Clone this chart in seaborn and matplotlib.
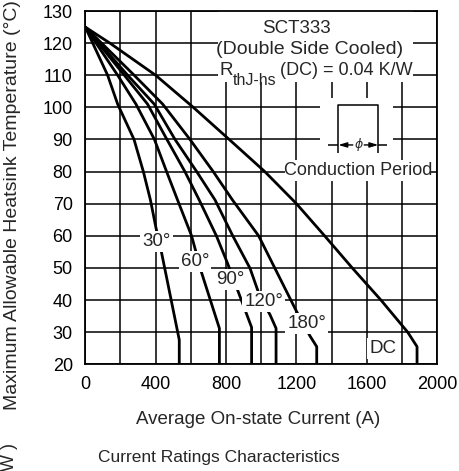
import matplotlib
matplotlib.use("Agg")
import matplotlib.pyplot as plt
from matplotlib.patches import Rectangle
from matplotlib.ticker import MultipleLocator
import seaborn as sns
import pandas as pd

# Heatsink temperature vs. average current, one curve per conduction angle
current_30 = [0, 127, 184, 277, 330, 370, 402, 434, 534, 534]
temp_30 = [125, 110, 101, 90, 80, 71.2, 62.4, 54.6, 27.6, 20]

current_60 = [0, 184, 288, 393, 462, 524, 604, 661, 762, 762]
temp_60 = [125, 110, 101, 90, 80, 71.2, 60, 48.5, 31.2, 20]

current_90 = [0, 222, 354, 464, 566, 647, 745, 808, 880, 945, 945]
temp_90 = [125, 110, 101, 90, 80, 71.2, 60, 51.5, 41, 31.5, 20]

current_120 = [0, 241, 392, 510, 633, 737, 838, 936, 993, 1050, 1084, 1084]
temp_120 = [125, 110, 101, 90, 80, 71.2, 60, 49.9, 41, 35.4, 31.2, 20]

current_180 = [0, 278, 440, 595, 727, 836, 985, 1201, 1277, 1315, 1315]
temp_180 = [125, 110, 101, 90, 80, 71.2, 60, 36.4, 28.8, 25.5, 20]

current_dc = [0, 140, 400, 614, 818, 1020, 1200, 1360, 1517, 1680, 1832, 1885, 1885]
temp_dc = [125, 120, 110, 100, 90, 80, 70, 60, 50, 40, 30, 25.5, 20]

curve_names = ["30°", "60°", "90°", "120°", "180°", "DC"]
curve_label_current = [405, 623, 822, 1015, 1258, 1690]
curve_label_temp = [58.2, 52.0, 46.3, 39.5, 32.8, 25.0]

x_ticks = [0, 400, 800, 1200, 1600, 2000]
y_ticks = [20, 30, 40, 50, 60, 70, 80, 90, 100, 110, 120, 130]

series = [
    (current_30, temp_30), (current_60, temp_60), (current_90, temp_90),
    (current_120, temp_120), (current_180, temp_180), (current_dc, temp_dc),
]
rows = []
for name, (cur, tmp) in zip(curve_names, series):
    for i, (c, t) in enumerate(zip(cur, tmp)):
        rows.append({"curve": name, "order": i, "current": c, "temp": t})
df = pd.DataFrame(rows)

sns.set_style("white")
FONT = ["Liberation Sans", "DejaVu Sans"]
plt.rcParams["font.family"] = FONT

fig = plt.figure(figsize=(4.6, 4.71), dpi=100)
ax = fig.add_axes([0.1854, 0.2265, 0.7652, 0.7501])

sns.lineplot(data=df, x="current", y="temp", units="curve", estimator=None,
             sort=False, color="black", linewidth=2.0, ax=ax, zorder=2)

ax.set_xlim(0, 2000)
ax.set_ylim(20, 130)
ax.set_xticks(x_ticks)
ax.set_yticks(y_ticks)
ax.xaxis.set_minor_locator(MultipleLocator(200))
ax.set_axisbelow(True)
ax.grid(which="both", color="black", linewidth=1.1)
ax.tick_params(which="both", length=0)
ax.tick_params(axis="x", pad=8.5)
ax.tick_params(axis="y", pad=9)
for lab in ax.get_xticklabels() + ax.get_yticklabels():
    lab.set_fontsize(13)
    lab.set_color("black")
for sp in ax.spines.values():
    sp.set_color("black")
    sp.set_linewidth(1.3)
ax.set_xlabel("")
ax.set_ylabel("")

# white panels behind the annotation blocks
for (x0, x1, y0, y1) in [(755, 1862, 108.0, 130), (1335, 1750, 83.6, 103.0),
                         (1135, 1958, 77.1, 83.6)]:
    ax.add_patch(Rectangle((x0, y0), x1 - x0, y1 - y0, facecolor="white",
                           edgecolor="none", zorder=1.5))

ax.text(1201, 124.7, "SCT333", ha="center", va="center", fontsize=13.5,
        zorder=3)
ax.text(1277, 117.9, "(Double Side Cooled)", ha="center", va="center",
        fontsize=14, zorder=3)
ax.text(765, 111.5, "R", ha="left", va="center", fontsize=13.5, zorder=3)
ax.text(839, 108.3, "thJ-hs", ha="left", va="center", fontsize=11.5, zorder=3)
ax.text(1106, 111.4, "(DC) = 0.04 K/W", ha="left", va="center", fontsize=13,
        zorder=3)

# conduction-period pulse sketch
pulse_kw = dict(color="black", linewidth=1.1, zorder=3, solid_capstyle="butt")
ax.plot([1438, 1438, 1665, 1665], [85.7, 100.8, 100.8, 85.7], **pulse_kw)
ax.plot([1381, 1438], [88.3, 88.3], **pulse_kw)
ax.plot([1665, 1712], [88.3, 88.3], **pulse_kw)
arrow_kw = dict(arrowstyle="-|>,head_length=0.5,head_width=0.15", color="black",
                lw=1.0, shrinkA=0, shrinkB=0)
ax.annotate("", xy=(1438, 88.3), xytext=(1520, 88.3), arrowprops=arrow_kw, zorder=3)
ax.annotate("", xy=(1665, 88.3), xytext=(1585, 88.3), arrowprops=arrow_kw, zorder=3)
ax.text(1552, 88.3, "ϕ", ha="center", va="center", fontsize=9, style="italic",
        family=["DejaVu Sans"], zorder=4,
        bbox=dict(facecolor="white", edgecolor="none", pad=0.5))
ax.text(1548, 80.5, "Conduction Period", ha="center", va="center", fontsize=13,
        zorder=3)

# conduction-angle labels
for name, cx, cy in zip(curve_names, curve_label_current, curve_label_temp):
    ax.text(cx, cy, name, ha="center", va="center", fontsize=13.5,
            zorder=4, bbox=dict(facecolor="white", edgecolor="none", pad=1.5))

fig.text(0.561, 0.1083, "Average On-state Current (A)", ha="center",
         va="center", fontsize=13.5)
fig.text(0.0272, 0.565, "Maximum Allowable Heatsink Temperature (°C)",
         ha="center", va="center", rotation=90, fontsize=14)
fig.text(0.476, 0.0297, "Current Ratings Characteristics", ha="center",
         va="center", fontsize=12.5)
fig.text(0.0217, 0.0297, "W )", ha="center", va="center", rotation=90,
         fontsize=13)

fig.savefig("out.png", dpi=100)
